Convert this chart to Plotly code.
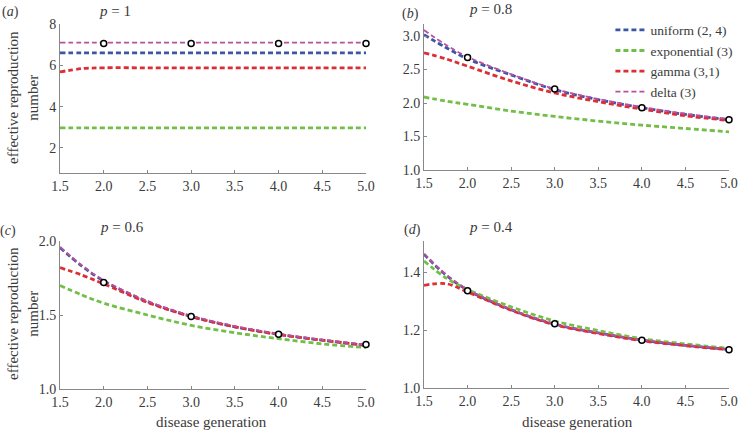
import plotly.graph_objects as go

# ---------------- data ----------------
x_curve = [1.5, 1.75, 2.0, 2.5, 3.0, 3.5, 4.0, 4.5, 5.0]
x_points = [2.0, 3.0, 4.0, 5.0]
x_ticks = [1.5, 2.0, 2.5, 3.0, 3.5, 4.0, 4.5, 5.0]

series_names = ["uniform (2, 4)", "exponential (3)", "gamma (3,1)", "delta (3)"]

# panel (a) p = 1
a_uniform = [6.6, 6.6, 6.6, 6.6, 6.6, 6.6, 6.6, 6.6, 6.6]
a_expon = [2.97, 2.97, 2.97, 2.97, 2.97, 2.97, 2.97, 2.97, 2.97]
a_gamma = [5.68, 5.84, 5.88, 5.88, 5.88, 5.88, 5.88, 5.88, 5.88]
a_delta = [7.1, 7.1, 7.1, 7.1, 7.1, 7.1, 7.1, 7.1, 7.1]
a_points = [7.06, 7.06, 7.06, 7.06]

# panel (b) p = 0.8
b_uniform = [3.02, 2.83, 2.66, 2.42, 2.20, 2.05, 1.93, 1.83, 1.75]
b_expon = [2.09, 2.03, 1.98, 1.88, 1.80, 1.73, 1.67, 1.62, 1.57]
b_gamma = [2.75, 2.66, 2.55, 2.33, 2.15, 2.02, 1.91, 1.81, 1.74]
b_delta = [3.09, 2.87, 2.69, 2.43, 2.21, 2.06, 1.94, 1.84, 1.76]
b_points = [2.68, 2.21, 1.93, 1.75]

# panel (c) p = 0.6
c_uniform = [1.955, 1.83, 1.73, 1.59, 1.49, 1.42, 1.37, 1.33, 1.295]
c_expon = [1.70, 1.635, 1.58, 1.50, 1.43, 1.38, 1.34, 1.305, 1.28]
c_gamma = [1.82, 1.77, 1.71, 1.585, 1.49, 1.42, 1.368, 1.33, 1.295]
c_delta = [1.96, 1.835, 1.735, 1.595, 1.495, 1.425, 1.372, 1.332, 1.298]
c_points = [1.72, 1.49, 1.37, 1.30]

# panel (d) p = 0.4
d_uniform = [1.461, 1.39, 1.338, 1.27, 1.22, 1.19, 1.165, 1.147, 1.133]
d_expon = [1.438, 1.38, 1.34, 1.28, 1.231, 1.198, 1.17, 1.152, 1.137]
d_gamma = [1.354, 1.36, 1.331, 1.268, 1.218, 1.188, 1.163, 1.146, 1.132]
d_delta = [1.463, 1.392, 1.34, 1.271, 1.221, 1.19, 1.166, 1.148, 1.134]
d_points = [1.335, 1.222, 1.165, 1.132]

panel_labels = ["(<i>a</i>)", "(<i>b</i>)", "(<i>c</i>)", "(<i>d</i>)"]
panel_titles = ["<i>p</i> = 1", "<i>p</i> = 0.8", "<i>p</i> = 0.6", "<i>p</i> = 0.4"]
y_ticks = [[2, 4, 6, 8], [1.0, 1.5, 2.0, 2.5, 3.0], [1.0, 1.5, 2.0], [1.0, 1.2, 1.4]]
y_ranges = [[0.79, 8.0], [1.0, 3.18], [1.0, 2.0], [1.0, 1.507]]

# ---------------- style ----------------
W, H = 739, 432
FONT = "Liberation Serif, Times New Roman, DejaVu Serif, serif"
TXT = "#3a3a3a"
colors = ["#3a56a6", "#72bf48", "#dc2f35", "#bb4f9c"]
widths = [2.8, 2.8, 2.8, 1.8]

# pixel boxes: (left, right, top, bottom)
boxes = [(60, 366, 24, 173), (424, 729, 24, 170), (60, 366, 241, 389), (424, 729, 241, 388)]

panels = [
    (a_uniform, a_expon, a_gamma, a_delta, a_points),
    (b_uniform, b_expon, b_gamma, b_delta, b_points),
    (c_uniform, c_expon, c_gamma, c_delta, c_points),
    (d_uniform, d_expon, d_gamma, d_delta, d_points),
]

fig = go.Figure()
layout = dict(
    width=W, height=H, margin=dict(l=0, r=0, t=0, b=0, autoexpand=False),
    paper_bgcolor="white", plot_bgcolor="white",
    font=dict(family=FONT, size=14, color=TXT),
    showlegend=True,
    legend=dict(x=0.826, y=0.966, xanchor="left", yanchor="top",
                font=dict(family=FONT, size=13.5, color=TXT),
                bgcolor="rgba(0,0,0,0)", tracegroupgap=0, itemwidth=30),
)
annotations = []

for i, (data, box) in enumerate(zip(panels, boxes)):
    k = i + 1
    xa = "x" if k == 1 else f"x{k}"
    ya = "y" if k == 1 else f"y{k}"
    l, r, t, b = box
    layout[f"xaxis{'' if k == 1 else k}"] = dict(
        domain=[l / W, r / W], anchor=ya, range=[1.5, 5.0], automargin=False,
        tickvals=x_ticks, tickformat=".1f", ticks="inside", ticklen=3,
        tickcolor="#888888", showline=True, linecolor="#888888", linewidth=1,
        showgrid=False, zeroline=False, tickfont=dict(family=FONT, size=14, color=TXT),
    )
    layout[f"yaxis{'' if k == 1 else k}"] = dict(
        domain=[1 - b / H, 1 - t / H], anchor=xa, range=y_ranges[i], automargin=False,
        tickvals=y_ticks[i], tickformat=(".1f" if i > 0 else "d"), ticks="inside", ticklen=3,
        tickcolor="#888888", showline=True, linecolor="#888888", linewidth=1,
        showgrid=False, zeroline=False, tickfont=dict(family=FONT, size=14, color=TXT),
    )
    for j in range(4):
        fig.add_trace(go.Scatter(
            x=x_curve, y=data[j], mode="lines", xaxis=xa, yaxis=ya,
            line=dict(color=colors[j], width=widths[j], dash="5px,3px", shape="spline"),
            name=series_names[j], showlegend=(k == 2), legendrank=j + 1,
        ))
    fig.add_trace(go.Scatter(
        x=x_points, y=data[4], mode="markers", xaxis=xa, yaxis=ya,
        marker=dict(symbol="circle", size=6, color="white", line=dict(color="black", width=1.5)),
        showlegend=False, cliponaxis=False,
    ))


def ann(text, px, py, size, angle=0):
    return dict(text=text, x=px / W, y=1 - py / H, xref="paper", yref="paper",
                xanchor="center", yanchor="middle", showarrow=False, textangle=angle,
                font=dict(family=FONT, size=size, color=TXT))


# panel labels and titles (pixel positions)
label_pos = [(10, 12), (410, 14), (8, 231), (413, 230)]
title_pos = [(115, 11), (490, 9), (122, 227), (491, 227)]
for i in range(4):
    annotations.append(ann(panel_labels[i], *label_pos[i], 14))
    annotations.append(ann(panel_titles[i], *title_pos[i], 15))

# y-axis titles
for cy in [98, 314]:
    annotations.append(ann("effective reproduction<br>number", 23, cy, 15, -90))
# x-axis titles
for cx in [212, 577]:
    annotations.append(ann("disease generation", cx, 422, 15))

layout["annotations"] = annotations
fig.update_layout(**layout)
fig.write_html("out.html", config={"displayModeBar": False},
               post_script="document.body.style.margin='0px';")
